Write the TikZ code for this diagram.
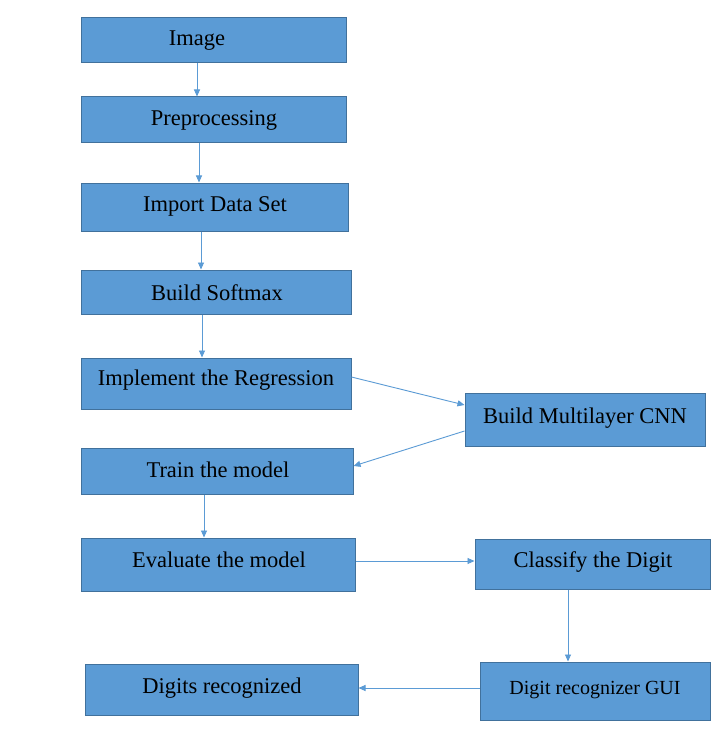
\documentclass[tikz,border=0pt]{standalone}
\usepackage{fontspec}
\setmainfont{Liberation Serif}
\usetikzlibrary{arrows.meta}
\definecolor{boxfill}{HTML}{5B9BD5}
\definecolor{boxline}{HTML}{41719C}
\definecolor{arrowc}{HTML}{5B9BD5}
\tikzset{
  box/.style={draw=boxline, line width=1pt, fill=boxfill, rectangle, inner sep=0pt},
  lbl/.style={inner sep=0pt, yshift=-2pt, font=\fontsize{22.5}{26}\selectfont},
  lblsmall/.style={inner sep=0pt, yshift=-2pt, font=\fontsize{20}{24}\selectfont},
  conn/.style={draw=arrowc, line width=0.9pt, -{Triangle[length=7pt,width=6pt]}}
}
\begin{document}
\begin{tikzpicture}[x=1pt,y=-1pt]
\useasboundingbox (0,0) rectangle (727,730);
\fill[white] (0,0) rectangle (727,730);
% boxes
\node[box, minimum width=265, minimum height=45] (img) at (213.5,40.5) {};
\node[box, minimum width=265, minimum height=46] (pre) at (213.5,120) {};
\node[box, minimum width=267, minimum height=48] (imp) at (214.5,207) {};
\node[box, minimum width=270, minimum height=44] (soft) at (216,292) {};
\node[box, minimum width=270, minimum height=51] (reg) at (216,383.5) {};
\node[box, minimum width=272, minimum height=46] (train) at (217,471) {};
\node[box, minimum width=274, minimum height=53] (eval) at (218,564.5) {};
\node[box, minimum width=240, minimum height=53] (cnn) at (585,419.5) {};
\node[box, minimum width=235, minimum height=50] (cls) at (592.5,564) {};
\node[box, minimum width=230, minimum height=58] (gui) at (595,691) {};
\node[box, minimum width=273, minimum height=51] (dig) at (221.5,689.5) {};
% labels
\node[lbl] (timg) at (197,39) {Image};
\node[lbl] (tpre) at (214,118) {Preprocessing};
\node[lbl] (timp) at (215,204) {Import Data Set};
\node[lbl] (tsoft) at (217,291) {Build Softmax};
\node[lbl] (treg) at (216,378) {Implement the Regression};
\node[lbl] (ttrain) at (218,468) {Train the model};
\node[lbl] (teval) at (219,558) {Evaluate the model};
\node[lbl] (tcnn) at (585,416) {Build Multilayer CNN};
\node[lbl] (tcls) at (593,560) {Classify the Digit};
\node[lblsmall] (tgui) at (595,688) {Digit recognizer GUI};
\node[lbl] (tdig) at (222,686) {Digits recognized};
% connectors
\draw[conn] (img.south -| 197,0) -- (pre.north -| 197,0);
\draw[conn] (pre.south -| 199,0) -- (imp.north -| 199,0);
\draw[conn] (imp.south -| 201,0) -- (soft.north -| 201,0);
\draw[conn] (soft.south -| 202,0) -- (reg.north -| 202,0);
\draw[conn] (reg.east |- 0,377) -- (cnn.west |- 0,405);
\draw[conn] (cnn.west |- 0,431) -- (train.east |- 0,466);
\draw[conn] (train.south -| 204,0) -- (eval.north -| 204,0);
\draw[conn] (eval.east |- 0,561) -- (cls.west |- 0,561);
\draw[conn] (cls.south -| 568,0) -- (gui.north -| 568,0);
\draw[conn] (gui.west |- 0,688) -- (dig.east |- 0,688);
\end{tikzpicture}
\end{document}
